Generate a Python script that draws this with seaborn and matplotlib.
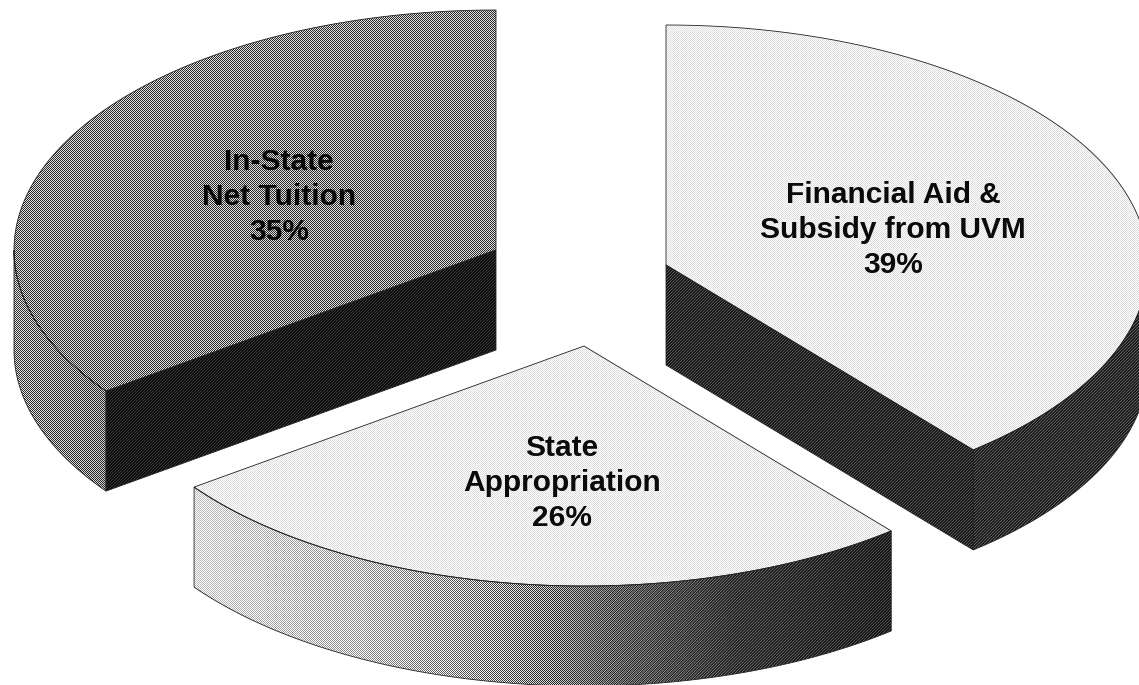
import numpy as np
import seaborn as sns
import matplotlib
matplotlib.use("Agg")
import matplotlib.pyplot as plt
from matplotlib.patches import Polygon

W, H = 1139, 685

categories = ["Financial Aid &\nSubsidy from UVM", "State\nAppropriation", "In-State\nNet Tuition"]
shares = [39, 26, 35]

# --- pie geometry, in pixels ---
CENTER = (590, 285)
RX, RY = 482, 240
DEPTH = 100
explode = [(76, -20), (-6, 61), (-94, -35)]
label_pos = [(893, 230), (562, 483), (279, 197)]

# --- shading (grey level 0-1) ---
top_grey = [0.94, 0.94, 0.52]
radial_grey = [0.18, 0.18, 0.11]
# grey along x on the curved wall: (x offset from wedge apex, grey)
wall_stops = [
    ([0, 500], [0.20, 0.20]),
    ([-390, -230, -90, 30, 150, 307], [0.88, 0.78, 0.60, 0.38, 0.23, 0.16]),
    ([-482, -390], [0.54, 0.48]),
]

yy, xx = np.mgrid[0:H, 0:W]
checker = 2.0 * ((xx + yy) % 2) - 1
stripes = 1.5 * ((xx + yy) % 3 == 0) - 0.5


def dithered(ax, grey, outline):
    # halftone fill clipped to a polygon, like the scanned original
    mix = np.clip((grey - 0.2) / 0.3, 0, 1)
    pattern = mix * checker + (1 - mix) * 0.8 * stripes
    img = np.clip(grey + 1.4 * grey * (1 - grey) * pattern, 0, 1)
    im = ax.imshow(img, cmap="gray", vmin=0, vmax=1, extent=(0, W, H, 0),
                   interpolation="nearest", aspect="auto", zorder=2)
    patch = Polygon(outline, closed=True, transform=ax.transData)
    im.set_clip_path(patch)
    ax.add_patch(Polygon(outline, closed=True, fill=False, edgecolor="#222222",
                         linewidth=0.6, zorder=3))


def rim(apex, a, drop=0):
    a = np.radians(a)
    return np.column_stack([apex[0] + RX * np.sin(a), apex[1] - RY * np.cos(a) + drop])


sns.set_theme(style="white")
plt.rcParams["font.family"] = ["Liberation Sans", "DejaVu Sans"]

fig = plt.figure(figsize=(W / 100, H / 100), dpi=100)
ax = fig.add_axes([0, 0, 1, 1])
ax.set_xlim(0, W)
ax.set_ylim(H, 0)
ax.axis("off")

edges = np.cumsum([0] + shares) * 3.6
for i, (name, share) in enumerate(zip(categories, shares)):
    a0, a1 = edges[i], edges[i + 1]
    apex = (CENTER[0] + explode[i][0], CENTER[1] + explode[i][1])

    # curved wall, only the front half of the ellipse shows
    lo, hi = max(a0, 90), min(a1, 270)
    if hi > lo:
        arc = np.linspace(lo, hi, 200)
        wall = np.vstack([rim(apex, arc), rim(apex, arc[::-1], DEPTH)])
        stops = wall_stops[i]
        dithered(ax, np.interp(xx - apex[0], stops[0], stops[1]), wall)

    # cut faces that turn toward the viewer
    for a, show in ((a1, 0 < a1 < 180), (a0, 180 < a0 < 360)):
        if show:
            p = rim(apex, [a])[0]
            face = [apex, p, (p[0], p[1] + DEPTH), (apex[0], apex[1] + DEPTH)]
            dithered(ax, np.full(xx.shape, radial_grey[i]), face)

    arc = np.linspace(a0, a1, 300)
    top = np.vstack([[apex], rim(apex, arc)])
    dithered(ax, np.full(xx.shape, top_grey[i]), top)

    ax.text(label_pos[i][0], label_pos[i][1], f"{name}\n{share}%", ha="center", va="center",
            fontsize=21.5, fontweight="bold", color="#0a0a0a", linespacing=1.3, zorder=5)

ax.set_xlim(0, W)
ax.set_ylim(H, 0)
fig.savefig("out.png", dpi=100, facecolor="white")
